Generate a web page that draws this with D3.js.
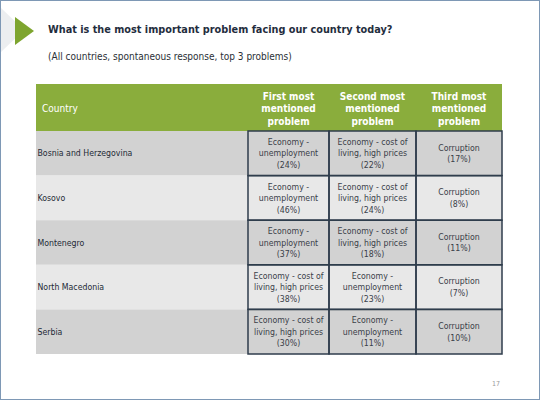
<!DOCTYPE html>
<html><head><meta charset="utf-8">
<script src="https://cdn.jsdelivr.net/npm/d3@7"></script>
<style>html,body{margin:0;padding:0;background:#fff;}svg{display:block;}</style>
</head><body>
<svg id="c" width="540" height="400"></svg>
<script>
const title = "What is the most important problem facing our country today?";
const subtitle = "(All countries, spontaneous response, top 3 problems)";
const headers = ["Country", "First most mentioned problem", "Second most mentioned problem", "Third most mentioned problem"];
const countries = ["Bosnia and Herzegovina", "Kosovo", "Montenegro", "North Macedonia", "Serbia"];
const firstProblem = ["Economy - unemployment", "Economy - unemployment", "Economy - unemployment", "Economy - cost of living, high prices", "Economy - cost of living, high prices"];
const firstPct = [24, 46, 37, 38, 30];
const secondProblem = ["Economy - cost of living, high prices", "Economy - cost of living, high prices", "Economy - cost of living, high prices", "Economy - unemployment", "Economy - unemployment"];
const secondPct = [22, 24, 18, 23, 11];
const thirdProblem = ["Corruption", "Corruption", "Corruption", "Corruption", "Corruption"];
const thirdPct = [17, 8, 11, 7, 10];
const pageNumber = "17";

const svg = d3.select("#c");
const FONT = "'DejaVu Sans Condensed','DejaVu Sans',sans-serif";

// slide frame
svg.append("rect").attr("x",0.5).attr("y",0.5).attr("width",539).attr("height",399)
  .attr("fill","#fff").attr("stroke","#7e98b5").attr("stroke-width",1);
// decorative triangles
svg.append("path").attr("d","M1,8 L24,30 L1,52 Z").attr("fill","#eceef0");
svg.append("path").attr("d","M15,17 L34,31 L15,45 Z").attr("fill","#7ea52f");

svg.append("text").attr("x",48).attr("y",33).attr("font-family",FONT).attr("font-weight","bold")
  .attr("font-size",10.8).attr("fill","#1f2d3d").text(title);
svg.append("text").attr("x",48).attr("y",60).attr("font-family",FONT)
  .attr("font-size",10).attr("fill","#2a2f36").text(subtitle);

// table geometry via scales
const colEdges = [36, 248, 329, 416, 502];
const col = d3.scaleOrdinal().domain([0,1,2,3]).range(colEdges.slice(0,4));
const colW = i => colEdges[i+1]-colEdges[i];
const headerTop = 84, headerBottom = 131, tableBottom = 354;
const y = d3.scaleBand().domain(countries).range([headerBottom, tableBottom]);

const rowFill = ["#d2d2d2", "#e8e8e8"];

// header
svg.append("rect").attr("x",colEdges[0]).attr("y",headerTop).attr("width",colEdges[4]-colEdges[0])
  .attr("height",headerBottom-headerTop).attr("fill","#8aad3c");

function wrap(str, maxW, size, weight){
  const tmp = svg.append("text").attr("font-family",FONT).attr("font-size",size).attr("font-weight",weight||"normal");
  const words = str.split(" "); const lines=[]; let cur="";
  words.forEach(w=>{
    const t = cur ? cur+" "+w : w;
    tmp.text(t);
    if (tmp.node().getComputedTextLength() > maxW && cur){ lines.push(cur); cur=w; } else cur=t;
  });
  if (cur) lines.push(cur);
  tmp.remove();
  return lines;
}

function multiline(lines, cx, cy, size, lh, fill, weight){
  const t = svg.append("text").attr("font-family",FONT).attr("font-size",size)
    .attr("font-weight",weight||"normal").attr("fill",fill).attr("text-anchor","middle");
  const n = lines.length;
  lines.forEach((l,i)=>{
    t.append("tspan").attr("x",cx).attr("y", cy + (i-(n-1)/2)*lh + size*0.36).text(l);
  });
}

svg.append("text").attr("x",col(0)+6).attr("y",(headerTop+headerBottom)/2+4).attr("font-family",FONT)
  .attr("font-size",10).attr("fill","#fff").text(headers[0]);
[1,2,3].forEach(i=>{
  const lines = wrap(headers[i], colW(i)-12, 10, "bold");
  multiline(lines, col(i)+colW(i)/2, (headerTop+headerBottom)/2+1, 10, 12.5, "#fff", "bold");
});

const probs = [firstProblem, secondProblem, thirdProblem];
const pcts = [firstPct, secondPct, thirdPct];

countries.forEach((c,r)=>{
  const y0 = y(c), h = y.bandwidth();
  svg.append("rect").attr("x",colEdges[0]).attr("y",y0).attr("width",colEdges[4]-colEdges[0])
    .attr("height",h).attr("fill",rowFill[r%2]);
  svg.append("text").attr("x",col(0)+1.5).attr("y",y0+h/2+3).attr("font-family",FONT)
    .attr("font-size",8.7).attr("fill","#1e2a36").text(c);
  [1,2,3].forEach(i=>{
    const lines = wrap(probs[i-1][r], colW(i)-4, 8.7).concat(["("+pcts[i-1][r]+"%)"]);
    multiline(lines, col(i)+colW(i)/2, y0+h/2, 8.7, 11.5, "#3a4048");
  });
});

// grid borders for problem columns
const g = svg.append("g").attr("stroke","#2f3d4c").attr("stroke-width",1.5).attr("fill","none");
countries.forEach(c=>{
  [1,2,3].forEach(i=>{
    g.append("rect").attr("x",col(i)).attr("y",y(c)).attr("width",colW(i)).attr("height",y.bandwidth());
  });
});

svg.append("text").attr("x",496).attr("y",386).attr("text-anchor","middle").attr("font-family",FONT)
  .attr("font-size",7).attr("fill","#9a9a9a").text(pageNumber);
</script>
</body></html>
